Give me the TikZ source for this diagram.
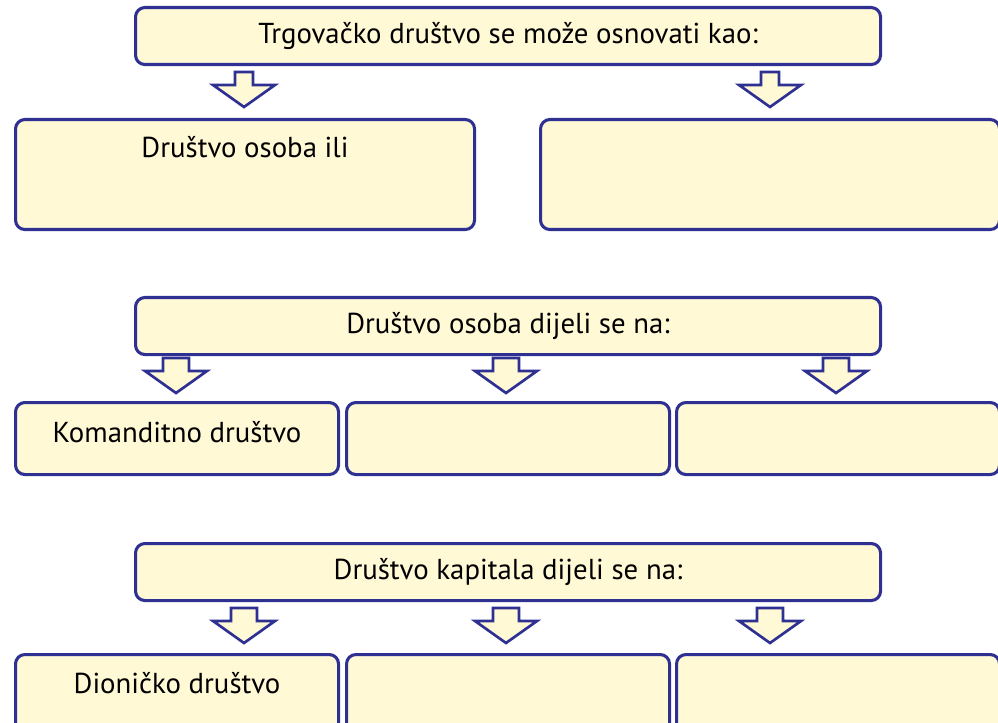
\documentclass[tikz,border=0pt]{standalone}
\usepackage{fontspec}
\setmainfont{PT Sans}
\usetikzlibrary{positioning}
\definecolor{BoxLine}{HTML}{2E3192}
\definecolor{BoxFill}{HTML}{FFF9D5}
\newcommand\pxu{0.75pt}
\newcommand\boxfont{\fontsize{21.6}{25}\selectfont}

\tikzset{
  box/.style={draw=BoxLine,fill=BoxFill,line width=2.3pt,rounded corners=7pt,
    anchor=north west,inner sep=0pt,font=\boxfont},
  headbox/.style={box,minimum width=745*\pxu,minimum height=57*\pxu},
  bigbox/.style={box,minimum width=459*\pxu,minimum height=110*\pxu},
  smallbox/.style={box,minimum width=323*\pxu,minimum height=72*\pxu},
  boxtext/.style={font=\boxfont,inner sep=0pt},
  downarrow/.pic={\draw[draw=BoxLine,fill=BoxFill,line width=2pt,line join=miter]
    (-#1,-35) -- (#1,-35) -- (#1,-22) -- (31,-22) -- (0,0) -- (-31,-22) -- (-#1,-22) -- cycle;}
}

\begin{document}
\begin{tikzpicture}[x=0.75pt,y=-0.75pt]
  \useasboundingbox (0,0) rectangle (998,723);
  % first block
  \node[headbox] (osnivanje) at (134,6) {Trgovačko društvo se može osnovati kao:};
  \pic at (244,107) {downarrow=9};
  \pic at (770,107) {downarrow=9};
  \node[bigbox,label={[boxtext,anchor=north,yshift=-18*\pxu]north:Društvo osoba ili}] (osobaili) at (14,118) {};
  \node[bigbox] (drugo) at (539,118) {};
  % second block
  \node[headbox] (osobe) at (134,296) {Društvo osoba dijeli se na:};
  \foreach \x in {176,506,836}{\pic at (\x,393) {downarrow=13};}
  \node[smallbox,label={[boxtext,yshift=6*\pxu]center:Komanditno društvo}] (komanditno) at (14,401) {};
  \node[smallbox] (osobeB) at (345,401) {};
  \node[smallbox] (osobeC) at (675,401) {};
  % third block
  \node[headbox] (kapital) at (134,542) {Društvo kapitala dijeli se na:};
  \foreach \x in {244,506,770}{\pic at (\x,643) {downarrow=13};}
  \node[smallbox,minimum height=80*\pxu,label={[boxtext,yshift=11*\pxu]center:Dioničko društvo}] (dionicko) at (14,653) {};
  \node[smallbox,minimum height=80*\pxu] (kapitalB) at (345,653) {};
  \node[smallbox,minimum height=80*\pxu] (kapitalC) at (675,653) {};
\end{tikzpicture}
\end{document}
